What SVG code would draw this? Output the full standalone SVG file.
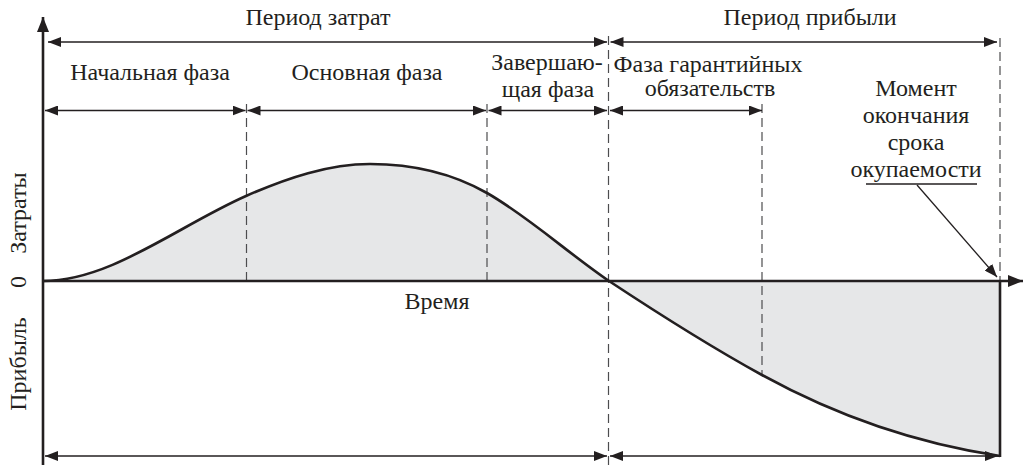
<svg xmlns="http://www.w3.org/2000/svg" width="1025" height="465" viewBox="0 0 1025 465">
<style>
.lbl text{font-size:24px;fill:#231f20}
.c{text-anchor:middle}
.thin{stroke:#231f20;stroke-width:1.3;fill:none}
.dim{stroke:#231f20;stroke-width:1.3;fill:none;marker-start:url(#ah);marker-end:url(#ah)}
.dash{stroke:#4d4d4f;stroke-width:1.2;stroke-dasharray:9 5;fill:none}
.axis{stroke:#231f20;stroke-width:2.6;fill:none}
.area{fill:#e6e7e8;stroke:none}
</style>
<defs>
<marker id="ah" viewBox="0 0 13 10" refX="13" refY="5" markerWidth="13" markerHeight="10" markerUnits="userSpaceOnUse" orient="auto-start-reverse"><path d="M0,0 L13,5 L0,10 z" fill="#231f20"/></marker>
<marker id="ax" viewBox="0 0 15 12" refX="15" refY="6" markerWidth="15" markerHeight="12" markerUnits="userSpaceOnUse" orient="auto"><path d="M0,0 L15,6 L0,12 z" fill="#231f20"/></marker>
</defs>
<g id="areas">
<path class="area" d="M43,281 C110.7,281 178.3,225.8 246,196 C287.3,177.8 328.7,164 370,164 C409,164 448,170.8 487,193 C527.7,216.2 568.3,253.3 609,281 Z"/>
<path class="area" d="M609,281 C660,314.7 711,347 762,375 C841.3,418.6 920.7,444.1 1000,456 L1000,281 Z"/>
</g>
<g id="guides">
<line class="dash" x1="246.5" y1="104" x2="246.5" y2="281"/>
<line class="dash" x1="487" y1="104" x2="487" y2="281"/>
<line class="dash" x1="608.5" y1="36" x2="608.5" y2="465"/>
<line class="dash" x1="762" y1="104" x2="762" y2="376"/>
<line class="dash" x1="1000" y1="38" x2="1000" y2="281"/>
</g>
<g id="curve">
<path class="axis" stroke-width="2.4" d="M43,281 C110.7,281 178.3,225.8 246,196 C287.3,177.8 328.7,164 370,164 C409,164 448,170.8 487,193 C527.7,216.2 568.3,253.3 609,281 C660,314.7 711,347 762,375 C841.3,418.6 920.7,444.1 1000,456"/>
</g>
<g id="axes">
<line class="axis" x1="43" y1="465" x2="43" y2="17" marker-end="url(#ax)"/>
<line class="axis" x1="43" y1="281" x2="1023" y2="281" marker-end="url(#ax)"/>
<line class="axis" x1="1000" y1="281" x2="1000" y2="457"/>
</g>
<g id="connectors">
<line class="dim" x1="48" y1="42" x2="607" y2="42"/>
<line class="dim" x1="610.5" y1="42" x2="997" y2="42"/>
<line class="dim" x1="45" y1="110.5" x2="245.5" y2="110.5"/>
<line class="dim" x1="247.5" y1="110.5" x2="486" y2="110.5"/>
<line class="dim" x1="488.5" y1="110.5" x2="607" y2="110.5"/>
<line class="dim" x1="610" y1="110.5" x2="762" y2="110.5"/>
<line class="dim" x1="45" y1="456" x2="607" y2="456"/>
<line class="dim" x1="610" y1="456" x2="998" y2="456"/>
<line class="thin" x1="866" y1="184" x2="977" y2="184"/>
<line class="thin" x1="917" y1="185" x2="997" y2="277" marker-end="url(#ah)"/>
</g>
<g id="labels" class="lbl" font-family="'Liberation Serif', 'DejaVu Serif', serif">
<text class="c" x="318" y="25">Период затрат</text>
<text class="c" x="810" y="25">Период прибыли</text>
<text class="c" x="150" y="80">Начальная фаза</text>
<text class="c" x="367" y="80">Основная фаза</text>
<text class="c" x="547" y="70">Завершаю-</text>
<text class="c" x="548" y="97">щая фаза</text>
<text class="c" x="708" y="72">Фаза гарантийных</text>
<text class="c" x="710" y="96">обязательств</text>
<text class="c" x="916" y="96">Момент</text>
<text class="c" x="916" y="123">окончания</text>
<text class="c" x="916" y="150">срока</text>
<text class="c" x="916" y="177">окупаемости</text>
<text class="c" x="437" y="309">Время</text>
<text class="c" transform="translate(26,282) rotate(-90)">0</text>
<text class="c" transform="translate(26,213) rotate(-90)">Затраты</text>
<text class="c" transform="translate(26,364) rotate(-90)">Прибыль</text>
</g>
</svg>
